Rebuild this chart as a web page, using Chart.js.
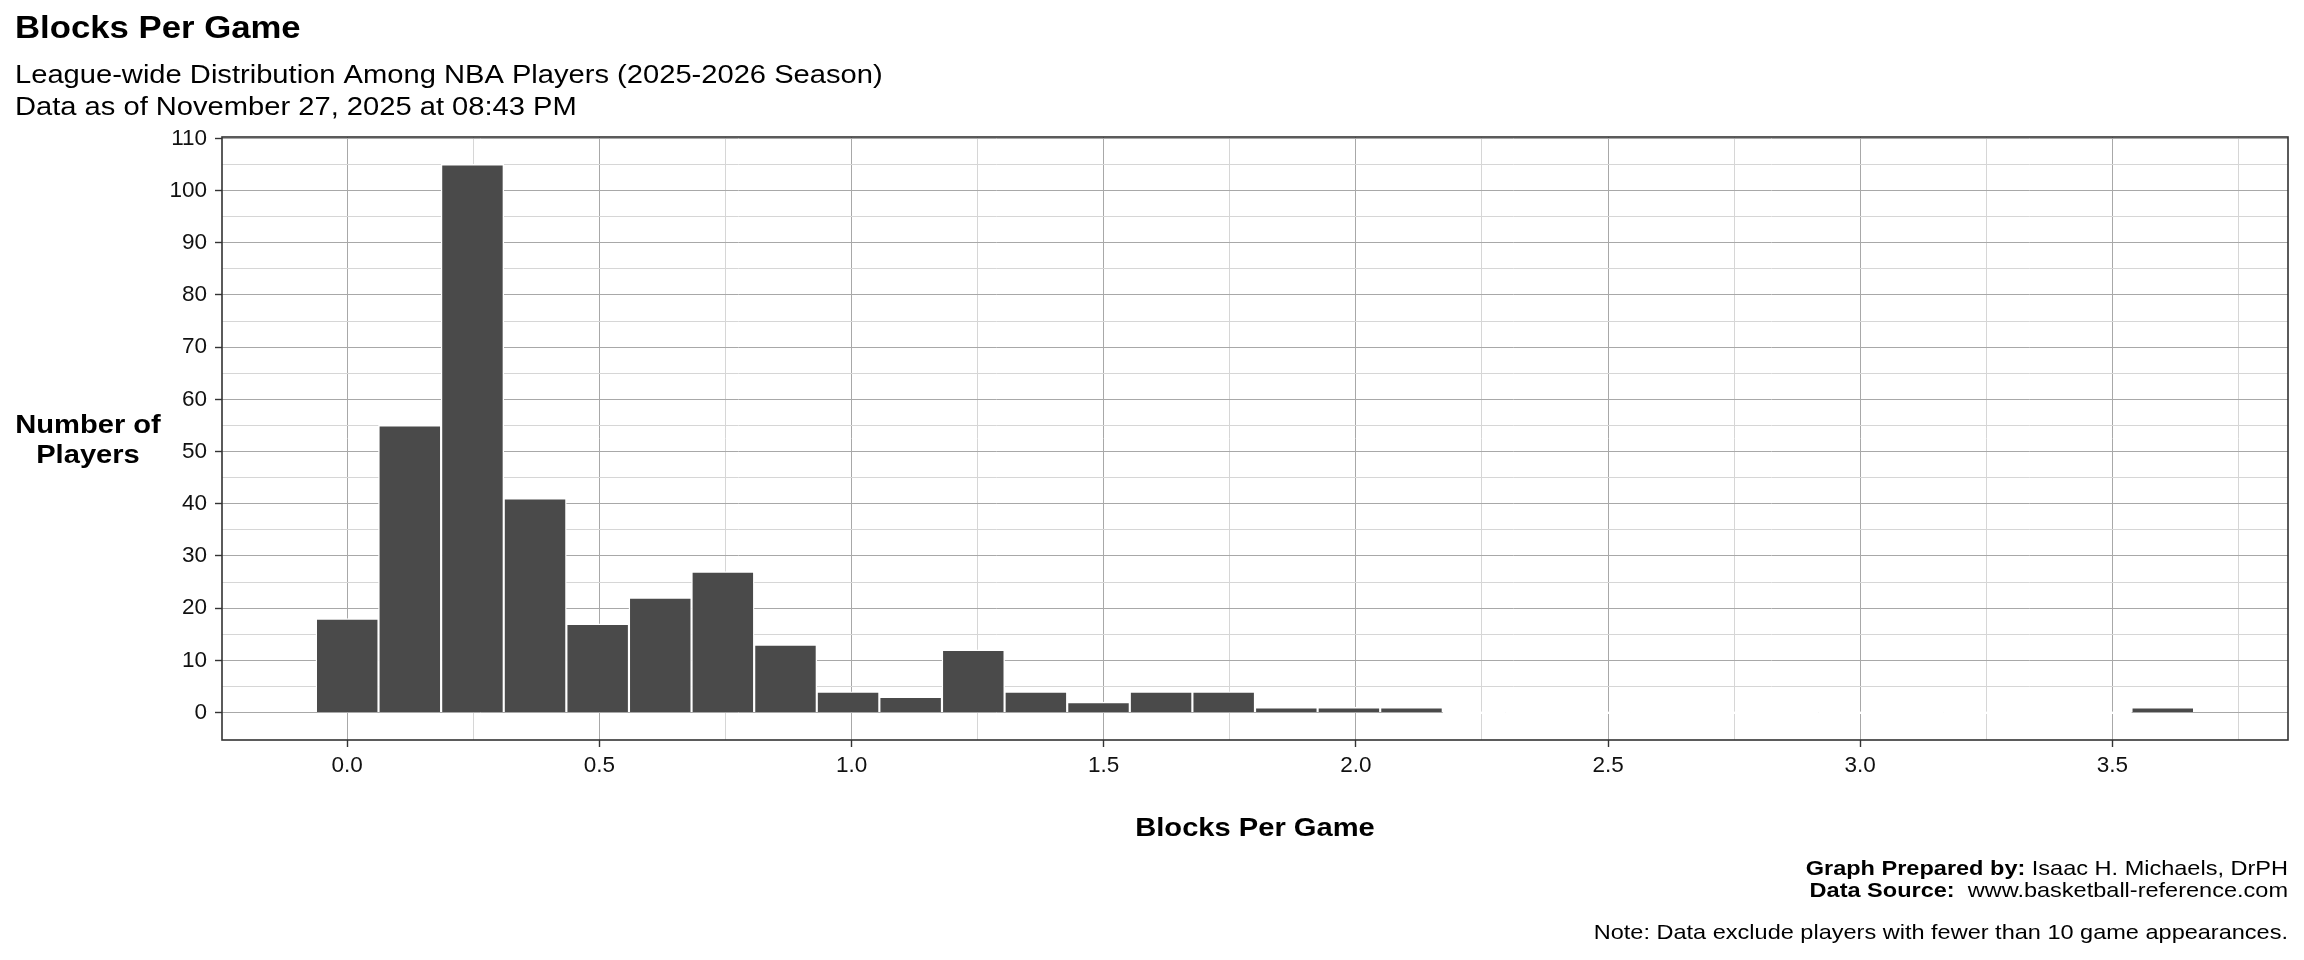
<!DOCTYPE html>
<html>
<head>
<meta charset="utf-8">
<script src="https://cdn.jsdelivr.net/npm/chart.js@4.4.1/dist/chart.umd.min.js"></script>
<style>
  html, body { margin: 0; padding: 0; background: #ffffff; }
  #wrap { width: 2304px; height: 960px; position: relative; }
  canvas { display: block; }
</style>
</head>
<body>
<div id="wrap"><canvas id="chart" width="2304" height="960"></canvas></div>
<script>
// ---- Data (histogram of blocks per game, 30 bins) ----
const binCenters = [0.0000, 0.1241, 0.2483, 0.3724, 0.4966, 0.6207, 0.7448, 0.8690, 0.9931, 1.1172,
                    1.2414, 1.3655, 1.4897, 1.6138, 1.7379, 1.8621, 1.9862, 2.1103, 2.2345, 2.3586,
                    2.4828, 2.6069, 2.7310, 2.8552, 2.9793, 3.1034, 3.2276, 3.3517, 3.4759, 3.6000];
const playerCounts = [18, 55, 105, 41, 17, 22, 27, 13, 4, 3,
                      12, 4, 2, 4, 4, 1, 1, 1, 0, 0,
                      0, 0, 0, 0, 0, 0, 0, 0, 0, 1];

// ---- Axis ticks / limits ----
const xMajorTicks = [0, 0.5, 1, 1.5, 2, 2.5, 3, 3.5];
const xMinorTicks = [0.25, 0.75, 1.25, 1.75, 2.25, 2.75, 3.25, 3.75];
const yMajorTicks = [0, 10, 20, 30, 40, 50, 60, 70, 80, 90, 100, 110];
const yMinorTicks = [5, 15, 25, 35, 45, 55, 65, 75, 85, 95, 105];
const xLimits = [-0.2483, 3.8483];
const yLimits = [-5.25, 110.25];

// ---- Text ----
const titleText = 'Blocks Per Game';
const subtitleLines = ['League-wide Distribution Among NBA Players (2025-2026 Season)',
                       'Data as of November 27, 2025 at 08:43 PM'];
const xTitle = 'Blocks Per Game';
const yTitleLines = ['Number of', 'Players'];
const captionLines = [
  ['Graph Prepared by:', ' Isaac H. Michaels, DrPH'],
  ['Data Source:', '  www.basketball-reference.com']
];
const noteText = 'Note: Data exclude players with fewer than 10 game appearances.';

const FONT = '"Liberation Sans", Arial, Helvetica, sans-serif';
const STRETCH = 1.12;
const BAR_FILL = '#4a4a4a';
const GRID_MAJOR = '#a8a8a8';
const GRID_MINOR = '#d6d6d6';

function isIn(list, v) { return list.some(t => Math.abs(t - v) < 1e-9); }

function stretchedText(ctx, text, x, y, font, align) {
  ctx.save();
  ctx.font = font;
  const w = ctx.measureText(text).width * STRETCH;
  let sx = x;
  if (align === 'center') sx = x - w / 2;
  else if (align === 'right') sx = x - w;
  ctx.translate(sx, y);
  ctx.scale(STRETCH, 1);
  ctx.textAlign = 'left';
  ctx.textBaseline = 'alphabetic';
  ctx.fillText(text, 0, 0);
  ctx.restore();
  return w;
}
function textWidth(ctx, text, font) {
  ctx.save(); ctx.font = font;
  const w = ctx.measureText(text).width * STRETCH;
  ctx.restore();
  return w;
}

const decorPlugin = {
  id: 'decor',
  afterDraw(chart) {
    const ctx = chart.ctx;
    const a = chart.chartArea;
    // panel border
    ctx.save();
    ctx.strokeStyle = '#333333';
    ctx.lineWidth = 1.6;
    ctx.strokeRect(a.left, a.top, a.right - a.left, a.bottom - a.top);
    ctx.restore();

    ctx.save();
    ctx.fillStyle = '#000000';
    // title + subtitle
    stretchedText(ctx, titleText, 15, 38, 'bold 31px ' + FONT, 'left');
    stretchedText(ctx, subtitleLines[0], 15, 83, '26px ' + FONT, 'left');
    stretchedText(ctx, subtitleLines[1], 15, 115, '26px ' + FONT, 'left');
    // y axis title (horizontal, centered)
    stretchedText(ctx, yTitleLines[0], 88, 433, 'bold 26px ' + FONT, 'center');
    stretchedText(ctx, yTitleLines[1], 88, 463, 'bold 26px ' + FONT, 'center');
    // x axis title
    stretchedText(ctx, xTitle, (a.left + a.right) / 2, 836, 'bold 26px ' + FONT, 'center');
    // caption
    const boldF = 'bold 21px ' + FONT, regF = '21px ' + FONT;
    const right = a.right;
    const capBase = [875, 897];
    captionLines.forEach((parts, i) => {
      const wb = textWidth(ctx, parts[0], boldF);
      const wr = textWidth(ctx, parts[1], regF);
      const x0 = right - wb - wr;
      stretchedText(ctx, parts[0], x0, capBase[i], boldF, 'left');
      stretchedText(ctx, parts[1], x0 + wb, capBase[i], regF, 'left');
    });
    stretchedText(ctx, noteText, right, 939, regF, 'right');
    ctx.restore();
  }
};

const points = binCenters.map((x, i) => ({ x: x, y: playerCounts[i] }));

new Chart(document.getElementById('chart'), {
  type: 'bar',
  data: {
    datasets: [{
      data: points,
      backgroundColor: (c) => (c.raw && c.raw.y === 0) ? '#ffffff' : BAR_FILL,
      borderColor: '#ffffff',
      borderWidth: 1.4,
      borderSkipped: 'start',
      minBarLength: 2,
      barPercentage: 1.0,
      categoryPercentage: 1.0
    }]
  },
  options: {
    responsive: false,
    devicePixelRatio: 1,
    animation: false,
    layout: { padding: { top: 137, left: 0, right: 16, bottom: 160 } },
    plugins: { legend: { display: false }, tooltip: { enabled: false }, title: { display: false } },
    scales: {
      x: {
        type: 'linear',
        min: xLimits[0], max: xLimits[1],
        offset: false,
        afterBuildTicks: (s) => {
          s.ticks = xMajorTicks.concat(xMinorTicks).sort((p, q) => p - q).map(v => ({ value: v }));
        },
        afterFit: (s) => { s.height = 60; },
        ticks: {
          autoSkip: false, maxRotation: 0, minRotation: 0,
          padding: 5,
          color: '#111111',
          font: { family: FONT, size: 22.5 },
          callback: (v) => isIn(xMajorTicks, v) ? Number(v).toFixed(1) : ''
        },
        grid: {
          offset: false,
          color: (c) => (c.tick && isIn(xMajorTicks, c.tick.value)) ? GRID_MAJOR : GRID_MINOR,
          lineWidth: 1,
          tickLength: 7,
          tickColor: (c) => (c.tick && isIn(xMajorTicks, c.tick.value)) ? '#333333' : 'rgba(0,0,0,0)',
          tickWidth: 1.4
        },
        border: { display: false }
      },
      y: {
        type: 'linear',
        min: yLimits[0], max: yLimits[1],
        afterBuildTicks: (s) => {
          s.ticks = yMajorTicks.concat(yMinorTicks).sort((p, q) => p - q).map(v => ({ value: v }));
        },
        afterFit: (s) => { s.width = 222; },
        ticks: {
          autoSkip: false,
          padding: 8,
          color: '#111111',
          font: { family: FONT, size: 22.5 },
          callback: (v) => isIn(yMajorTicks, v) ? String(v) : ''
        },
        grid: {
          offset: false,
          color: (c) => (c.tick && isIn(yMajorTicks, c.tick.value)) ? GRID_MAJOR : GRID_MINOR,
          lineWidth: 1,
          tickLength: 7,
          tickColor: (c) => (c.tick && isIn(yMajorTicks, c.tick.value)) ? '#333333' : 'rgba(0,0,0,0)',
          tickWidth: 1.4
        },
        border: { display: false }
      }
    }
  },
  plugins: [decorPlugin]
});
</script>
</body>
</html>
